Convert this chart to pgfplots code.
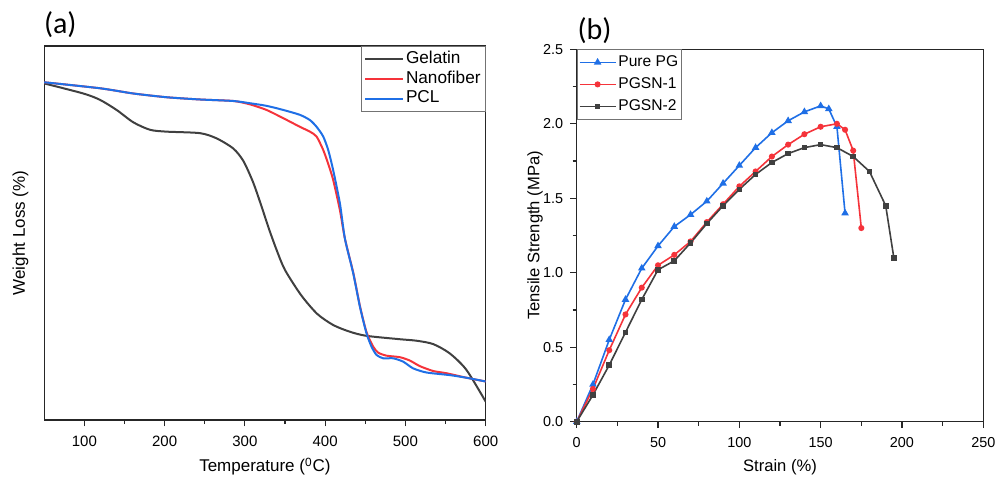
\documentclass[border=0pt]{standalone}
\usepackage{fontspec}
\setmainfont{Liberation Sans}
\newfontfamily\panelfont{Carlito}
\usepackage{pgfplots}
\pgfplotsset{compat=1.18}
\definecolor{cgray}{HTML}{404040}
\definecolor{cred}{HTML}{F5333A}
\definecolor{cblue}{HTML}{1F6FE6}

\begin{document}
\begin{tikzpicture}
\path[use as bounding box] (0,0) rectangle (497.5pt,238.5pt);
\pgfplotsset{
  every axis/.append style={
    scale only axis,
    axis line style={line width=0.65pt, black!85},
    tick style={line width=0.6pt, black!85},
    tick align=outside, xtick pos=bottom, ytick pos=left,
    major tick length=3.2pt, minor tick length=2pt,
    /pgf/number format/assume math mode=true,
    legend cell align=left,
  },
}
% (a) TGA
\begin{axis}[
  name=left, at={(22.1pt,28.5pt)}, anchor=south west,
  width=220.75pt, height=187pt,
  xmin=50, xmax=600, ymin=0, ymax=100,
  xtick={100,200,...,600}, minor x tick num=1, ytick=\empty,
  tick label style={font=\fontsize{7.5}{9}\selectfont},
  xticklabel style={yshift=-1.3pt},
  xlabel={Temperature (\textsuperscript{0}C)},
  ylabel={Weight Loss (\%)},
  label style={font=\fontsize{8.5}{10}\selectfont},
  xlabel style={at={(axis description cs:0.5,-0.139)}, anchor=base},
  ylabel style={at={(axis description cs:-0.054,0.5)}, anchor=center},
  legend style={at={(1,1)}, anchor=north east, draw=black!55, line width=0.5pt,
    inner sep=1.5pt, font=\fontsize{8.6}{10}\selectfont,
    nodes={inner sep=0.8pt, text height=6.3pt, text depth=1.9pt},
    /tikz/every even column/.append style={column sep=1pt}},
  legend image code/.code={\draw[#1] (0pt,0pt) -- (19pt,0pt);},
]
\addplot[cgray, line width=1pt, smooth, tension=0.45] coordinates {
 (50,90.0) (98.7,87.3) (119.5,85.6) (140.2,82.9) (161,79.6) (181.8,77.6)
 (202.5,77.1) (244,76.7) (264.8,75.3) (285.5,72.6) (298,69.3) (310,63.7)
 (320,57.6) (330,51.1) (340,45.2) (350,40.1) (370,33.4) (390,28.4) (410,25.4)
 (430.8,23.6) (451.5,22.5) (493,21.6) (513.8,21.2) (534.6,20.3) (555.3,17.8)
 (576,13.4) (600,4.9)
};
\addlegendentry{Gelatin}
\addplot[cred, line width=1pt, smooth, tension=0.4] coordinates {
 (50,90.3) (119.5,88.7) (161,87.3) (202.5,86.3) (244,85.7) (285.5,85.3)
 (306.3,84.4) (327,82.9) (347.8,80.7) (368.5,78.4) (381,77.1) (389.3,75.8)
 (397.6,72.2) (403.8,68.5) (410,64.2) (418.4,56.1) (424.6,48.5) (435,39.4)
 (443.3,30.5) (451.5,23.5) (459.9,19.6) (466.1,18.0) (476.5,17.2) (493,16.8)
 (505.5,15.9) (518,14.4) (534.6,13.1) (551.2,12.5) (576,11.3) (600,10.3)
};
\addlegendentry{Nanofiber}
\addplot[cblue, line width=1pt, smooth, tension=0.4] coordinates {
 (50,90.3) (119.5,88.7) (161,87.3) (202.5,86.3) (244,85.7) (285.5,85.3)
 (306.3,84.7) (327,84.0) (347.8,82.9) (368.5,81.6) (381,80.2) (389.3,78.4)
 (397.6,75.8) (403.8,72.2) (410,66.8) (418.4,57.9) (424.6,48.5) (435,39.2)
 (443.3,30.3) (451.5,23.2) (457.8,19.6) (464,17.4) (472.3,16.5) (484.8,16.5)
 (497.2,15.6) (509.7,13.8) (526.3,12.7) (555.3,12.0) (576,11.3) (600,10.3)
};
\addlegendentry{PCL}
\end{axis}
\node[anchor=base west, inner sep=0, font=\panelfont\fontsize{15}{17}\selectfont] at (21.8pt,221.5pt) {(a)};

% (b) tensile
\begin{axis}[
  name=right, at={(288.35pt,27.65pt)}, anchor=south west,
  width=203.3pt, height=186.2pt,
  xmin=0, xmax=250, ymin=0, ymax=2.5,
  xtick distance=50, minor x tick num=1,
  ytick distance=0.5, minor y tick num=1,
  tick label style={font=\fontsize{7.2}{8.5}\selectfont},
  xticklabel style={yshift=-1.3pt},
  yticklabel style={/pgf/number format/.cd, fixed, fixed zerofill, precision=1},
  xlabel={Strain (\%)},
  ylabel={Tensile Strength (MPa)},
  label style={font=\fontsize{8.3}{10}\selectfont},
  xlabel style={at={(axis description cs:0.5,-0.135)}, anchor=base},
  ylabel style={at={(axis description cs:-0.1026,0.5)}, anchor=center},
  legend style={at={(0,1)}, anchor=north west, draw=black!55, line width=0.5pt,
    inner sep=0.8pt, font=\fontsize{7.8}{9}\selectfont,
    nodes={inner sep=1pt, text height=6.4pt, text depth=2.6pt},
    /tikz/every even column/.append style={column sep=0.5pt}},
  legend image code/.code={\draw[#1, mark repeat=2, mark phase=2] plot coordinates {(0pt,0pt) (9pt,0pt) (18pt,0pt)};},
]
\addplot[cblue, line width=0.8pt, mark=triangle*, mark size=1.4pt] coordinates {
 (0,0) (10,0.25) (20,0.55) (30,0.82) (40,1.03) (50,1.18) (60,1.31) (70,1.39)
 (80,1.48) (90,1.60) (100,1.72) (110,1.84) (120,1.94) (130,2.02) (140,2.08)
 (150,2.12) (155,2.10) (160,1.98) (165,1.40)
};
\addlegendentry{Pure PG}
\addplot[cred, line width=0.8pt, mark=*, mark size=1.1pt] coordinates {
 (0,0) (10,0.22) (20,0.48) (30,0.72) (40,0.90) (50,1.05) (60,1.12) (70,1.21)
 (80,1.34) (90,1.46) (100,1.58) (110,1.68) (120,1.78) (130,1.86) (140,1.93)
 (150,1.98) (160,2.00) (165,1.96) (170,1.82) (175,1.30)
};
\addlegendentry{PGSN-1}
\addplot[cgray, line width=0.8pt, mark=square*, mark size=1.0pt] coordinates {
 (0,0) (10,0.18) (20,0.38) (30,0.60) (40,0.82) (50,1.02) (60,1.08) (70,1.20)
 (80,1.33) (90,1.45) (100,1.56) (110,1.66) (120,1.74) (130,1.80) (140,1.84)
 (150,1.86) (160,1.84) (170,1.78) (180,1.68) (190,1.45) (195,1.10)
};
\addlegendentry{PGSN-2}
\end{axis}
\node[anchor=base west, inner sep=0, font=\panelfont\fontsize{15}{17}\selectfont] at (288.6pt,218.5pt) {(b)};
\end{tikzpicture}
\end{document}
